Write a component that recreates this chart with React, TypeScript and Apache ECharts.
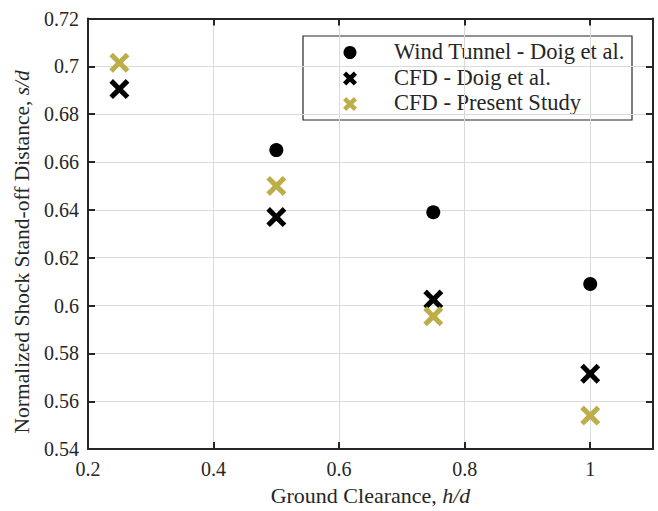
import React, { useEffect, useRef } from "react";
import * as echarts from "echarts";

// Ground clearance h/d at which each data set was taken
const clearanceWindTunnel = [0.5, 0.75, 1.0];
const clearanceCfd = [0.25, 0.5, 0.75, 1.0];

// Normalized shock stand-off distance s/d
const standoffWindTunnel = [0.665, 0.639, 0.609];
const standoffCfdDoig = [0.6905, 0.637, 0.6025, 0.5715];
const standoffCfdPresent = [0.7015, 0.650, 0.5955, 0.554];

const seriesNames = [
  "Wind Tunnel - Doig et al.",
  "CFD - Doig et al.",
  "CFD - Present Study",
];

const BLACK = "#000000";
const GOLD = "#bdae4a";
const INK = "#262626";
const FONT = "'Liberation Serif', 'Times New Roman', serif";

// outline of a bold "x" in a 10x10 box, arms offset by `a` from each corner
function crossOutline(a: number): number[][] {
  const b = 10 - a;
  const c = 5 - a;
  const d = 5 + a;
  return [
    [0, a], [a, 0], [5, c], [b, 0], [10, a], [d, 5],
    [10, b], [b, 10], [5, d], [a, 10], [0, b], [c, 5],
  ];
}

const CROSS_PATH =
  "path://M" + crossOutline(1.8).map(([x, y]) => `${x},${y}`).join("L") + "Z";

function crossPoints(cx: number, cy: number, size: number, a: number): number[][] {
  const s = size / 10;
  return crossOutline(a).map(([x, y]) => [cx + (x - 5) * s, cy + (y - 5) * s]);
}

function pairs(xs: number[], ys: number[]): number[][] {
  return xs.map((x, i) => [x, ys[i]]);
}

export default function App() {
  const ref = useRef<HTMLDivElement>(null);

  useEffect(() => {
    if (!ref.current) return;
    const chart = echarts.init(ref.current, null, { renderer: "svg" });

    const axisCommon = {
      axisLine: { show: true, onZero: false, lineStyle: { color: INK, width: 2 } },
      axisTick: { show: true, inside: true, length: 7, lineStyle: { color: INK, width: 2 } },
    };
    const gridLine = { show: true, lineStyle: { color: "#dadada", width: 1 } };
    const nameStyle = (size: number) => ({
      color: INK,
      fontFamily: FONT,
      fontSize: size,
      rich: { i: { fontStyle: "italic", fontFamily: FONT, fontSize: size, color: INK } },
    });

    const legendX = 303;
    const legendY = 36;
    const rowY = [52.5, 78.5, 104];
    const markerX = 350;
    const textX = 394;

    chart.setOption({
      animation: false,
      backgroundColor: "#ffffff",
      grid: { left: 88, right: 5, top: 18.5, bottom: 60, containLabel: false },
      xAxis: [
        {
          type: "value",
          position: "bottom",
          min: 0.2,
          max: 1.1,
          interval: 0.2,
          ...axisCommon,
          splitLine: gridLine,
          axisLabel: {
            color: INK,
            fontFamily: FONT,
            fontSize: 20,
            margin: 10,
            showMaxLabel: false,
          },
          name: "Ground Clearance, {i|h/d}",
          nameLocation: "middle",
          nameGap: 29,
          nameTextStyle: nameStyle(22),
        },
        {
          type: "value",
          position: "top",
          min: 0.2,
          max: 1.1,
          interval: 0.2,
          ...axisCommon,
          splitLine: { show: false },
          axisLabel: { show: false },
        },
      ],
      yAxis: [
        {
          type: "value",
          position: "left",
          min: 0.54,
          max: 0.72,
          interval: 0.02,
          ...axisCommon,
          splitLine: gridLine,
          axisLabel: { color: INK, fontFamily: FONT, fontSize: 20, margin: 9 },
          name: "Normalized Shock Stand-off Distance, {i|s/d}",
          nameLocation: "middle",
          nameGap: 55,
          nameTextStyle: { ...nameStyle(21.5), padding: [0, 36, 0, 0] },
        },
        {
          type: "value",
          position: "right",
          min: 0.54,
          max: 0.72,
          interval: 0.02,
          ...axisCommon,
          splitLine: { show: false },
          axisLabel: { show: false },
        },
      ],
      series: [
        {
          name: seriesNames[0],
          type: "scatter",
          symbol: "circle",
          symbolSize: 14,
          itemStyle: { color: BLACK, opacity: 1 },
          data: pairs(clearanceWindTunnel, standoffWindTunnel),
        },
        {
          name: seriesNames[1],
          type: "scatter",
          symbol: CROSS_PATH,
          symbolSize: 20,
          itemStyle: { color: BLACK, opacity: 1 },
          data: pairs(clearanceCfd, standoffCfdDoig),
        },
        {
          name: seriesNames[2],
          type: "scatter",
          symbol: CROSS_PATH,
          symbolSize: 20,
          itemStyle: { color: GOLD, opacity: 1 },
          data: pairs(clearanceCfd, standoffCfdPresent),
        },
      ],
      graphic: [
        {
          type: "group",
          z: 100,
          children: [
            {
              type: "rect",
              shape: { x: legendX, y: legendY, width: 329, height: 84 },
              style: { fill: "#ffffff", stroke: INK, lineWidth: 1.2 },
            },
            {
              type: "circle",
              shape: { cx: markerX, cy: rowY[0], r: 6.5 },
              style: { fill: BLACK },
            },
            {
              type: "polygon",
              shape: { points: crossPoints(markerX, rowY[1], 14, 2.3) },
              style: { fill: BLACK },
            },
            {
              type: "polygon",
              shape: { points: crossPoints(markerX, rowY[2], 14, 2.3) },
              style: { fill: GOLD },
            },
            ...seriesNames.map((name, i) => ({
              type: "text",
              x: textX,
              y: rowY[i] - 1.5,
              style: {
                text: name,
                fill: INK,
                font: `22.5px ${FONT}`,
                textAlign: "left",
                textVerticalAlign: "middle",
              },
            })),
          ],
        },
      ],
    });

    return () => chart.dispose();
  }, []);

  return (
    <div
      ref={ref}
      style={{ position: "fixed", left: 0, top: 0, width: 658, height: 511 }}
    />
  );
}
